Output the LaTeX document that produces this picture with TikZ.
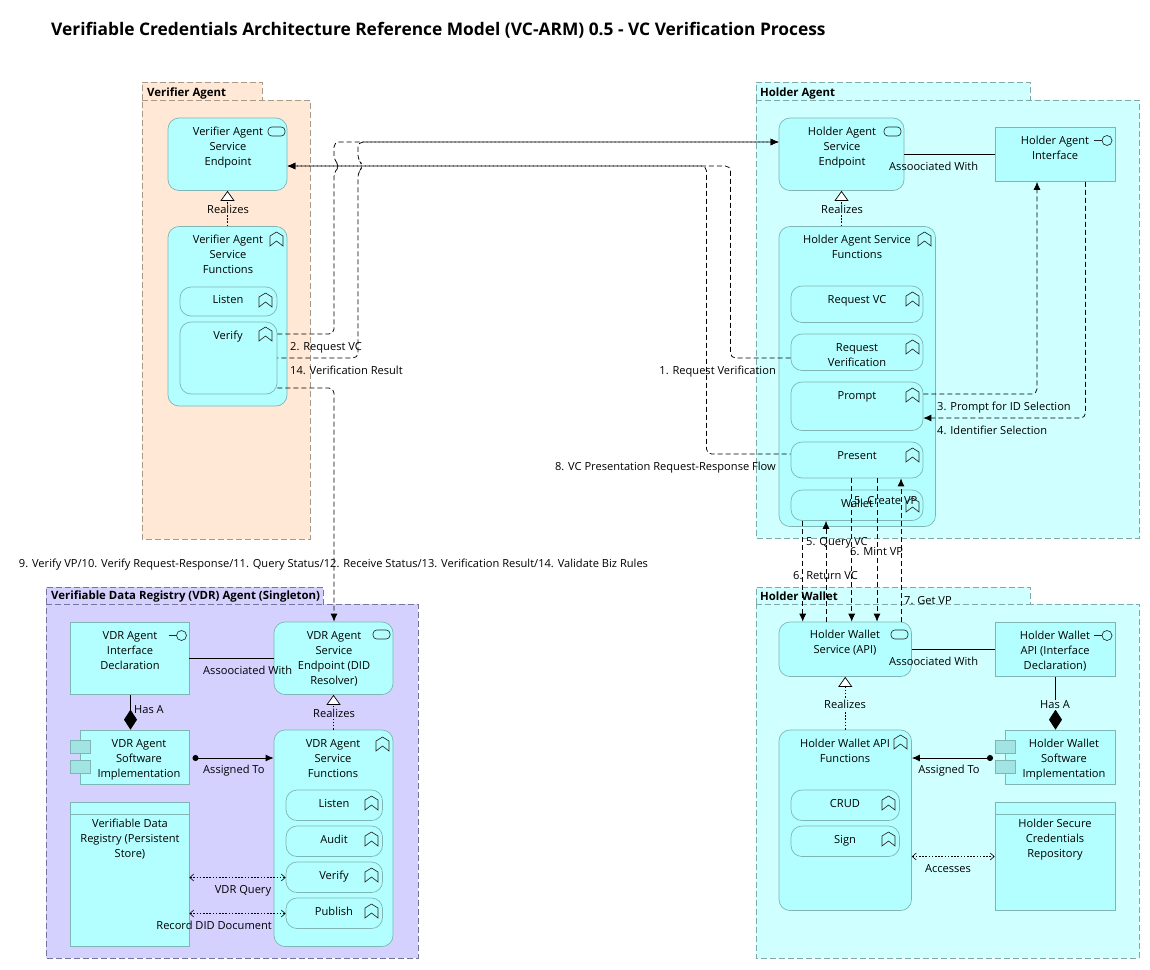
\documentclass[tikz,border=0pt]{standalone}
\usepackage{fontspec}
\setmainfont{Open Sans}
\usetikzlibrary{arrows.meta}
\definecolor{elemfill}{HTML}{B3FFFF}
\definecolor{elemline}{HTML}{7FB5B5}
\definecolor{tabfill}{HTML}{A2E3E3}
\definecolor{peach}{HTML}{FFE9D6}
\definecolor{peachline}{HTML}{A89A8A}
\definecolor{aqua}{HTML}{CFFFFF}
\definecolor{aqualine}{HTML}{7FA8A8}
\definecolor{lilac}{HTML}{D5D1FF}
\definecolor{lilacline}{HTML}{74749C}
\tikzset{
  x=1pt,y=-1pt,
  txt/.style={inner sep=0pt,yshift=-1pt,align=center,font=\fontsize{11.1}{15}\selectfont,text=black},
  lab/.style={inner sep=0pt,yshift=-1pt,font=\fontsize{11.1}{15}\selectfont,text=black},
  grouptitle/.style={inner sep=0pt,yshift=-1pt,anchor=west,font=\fontsize{11.4}{15}\selectfont\bfseries},
  boxbase/.style={draw=elemline,fill=elemfill,line width=0.7pt,inner sep=0pt},
  sharpbox/.style={boxbase},
  roundbox/.style={boxbase,rounded corners=11pt},
  tabbox/.style={draw=elemline,fill=tabfill,line width=0.7pt,inner sep=0pt},
  conn/.style={line width=0.75pt,dash pattern=on 5pt off 3pt,rounded corners=5pt},
  solidconn/.style={line width=0.85pt},
  dotconn/.style={line width=0.7pt,dash pattern=on 1.6pt off 1.6pt},
  filltip/.tip={Latex[length=8pt,width=7pt]},
  opentip/.tip={Straight Barb[length=4pt,width=7pt,line width=0.6pt]},
  realtip/.tip={Triangle[open,fill=white,length=10pt,width=14pt,line width=0.7pt]},
  diamondtip/.tip={Diamond[length=20pt,width=13pt]},
  dottip/.tip={Circle[length=6pt,width=6pt]},
  iconline/.style={draw=black!85,line width=0.65pt},
}
% #1 name #2 style #3 x1 #4 y1 #5 x2 #6 y2 #7 text x #8 text y #9 text
\newcommand\elem[9]{%
  \node[#2,minimum width={(#5-#3)*1pt},minimum height={(#6-#4)*1pt}] (#1) at ({(#3+#5)/2},{(#4+#6)/2}) {};
  \node[txt] (#1-t) at (#7,#8) {\strut #9\strut};
}
\newcommand\groupbox[9]{% name fill line x1 x2(body) tabx2 ytab ybody ybottom
  \path[fill=#2,draw=#3,line width=0.7pt,dash pattern=on 6pt off 3pt]
    (#4,#8) -- (#4,#7) -- (#6,#7) -- (#6,#8) -- (#5,#8) -- (#5,#9) -- (#4,#9) -- cycle;
  \draw[#3,line width=0.7pt,dash pattern=on 6pt off 3pt] (#4,#8) -- (#6,#8);
}
\newcommand\fnicon[2]{\draw[iconline] (#1,#2+4) -- (#1+6.5,#2) -- (#1+13,#2+4) -- (#1+13,#2+14) -- (#1+6.5,#2+9) -- (#1,#2+14) -- cycle;}
\newcommand\pillicon[2]{\draw[iconline,rounded corners=3.8pt] (#1,#2) rectangle (#1+17,#2+9);}
\newcommand\ificon[2]{\draw[iconline] (#1,#2) circle[radius=5pt]; \draw[iconline] (#1-13,#2) -- (#1-5,#2);}
\newcommand\hdrline[3]{\draw[elemline,line width=0.7pt] (#1,#3) -- (#2,#3);}
\newcommand\lbl[4]{\node[lab,anchor=#2] (#1) at (#3) {\strut #4};}
\begin{document}
\begin{tikzpicture}
\useasboundingbox[fill=white] (0,0) rectangle (1150,969);
\node[inner sep=0pt,anchor=west,font=\fontsize{17.35}{20}\selectfont\bfseries] (title) at (51,31) {\strut Verifiable Credentials Architecture Reference Model (VC-ARM) 0.5 - VC Verification Process};

% groups
\groupbox{vg}{peach}{peachline}{142}{310}{262}{82}{100}{539}
\groupbox{hg}{aqua}{aqualine}{756}{1139}{1030}{82}{100}{538}
\groupbox{wg}{aqua}{aqualine}{756}{1139}{1030}{587}{604}{958}
\groupbox{rg}{lilac}{lilacline}{46}{418}{323}{587}{604}{958}
\node[grouptitle] (vgt) at (147,92) {\strut Verifier Agent};
\node[grouptitle] (hgt) at (760,92) {\strut Holder Agent};
\node[grouptitle] (wgt) at (760,596) {\strut Holder Wallet};
\node[grouptitle] (rgt) at (51,595.5) {\strut Verifiable Data Registry (VDR) Agent (Singleton)};

% Verifier
\elem{vep}{roundbox}{168}{118}{287}{190.5}{228}{146}{Verifier Agent\\Service\\Endpoint}
\pillicon{268}{127}
\elem{vfn}{roundbox}{168}{226.5}{287}{406}{228}{254}{Verifier Agent\\Service\\Functions}
\fnicon{270}{232}
\elem{vlisten}{roundbox}{180}{287}{277}{316}{228}{299}{Listen}
\fnicon{259}{293}
\elem{vverify}{roundbox}{180}{322}{277}{394}{228}{335}{Verify}
\fnicon{259}{327}

% Holder
\elem{hep}{roundbox}{779}{118}{904}{190.5}{842}{146}{Holder Agent\\Service\\Endpoint}
\pillicon{884}{127}
\elem{hif}{sharpbox}{995}{127}{1115}{181.5}{1055}{147.5}{Holder Agent\\Interface}
\ificon{1107}{140.5}
\elem{hfn}{roundbox}{779}{226.5}{935.5}{526.5}{857}{246.5}{Holder Agent Service\\Functions}
\fnicon{918}{232}
\elem{hreqvc}{roundbox}{791}{286}{923}{322.5}{857}{299}{Request VC}
\fnicon{906}{292}
\elem{hreqver}{roundbox}{791}{334}{923}{370.5}{857}{354.5}{Request\\Verification}
\fnicon{906}{340}
\elem{hprompt}{roundbox}{791}{382}{923}{430.5}{857}{395}{Prompt}
\fnicon{906}{388}
\elem{hpresent}{roundbox}{791}{442}{923}{478}{857}{455}{Present}
\fnicon{906}{448}
\elem{hwallet}{roundbox}{791}{490}{923}{520.5}{857}{503}{Wallet}
\fnicon{906}{498}

% Holder wallet
\elem{wsv}{roundbox}{779}{622}{911.5}{676.5}{845}{641.5}{Holder Wallet\\Service (API)}
\pillicon{891}{630}
\elem{wapi}{sharpbox}{995}{622}{1115}{676.5}{1055}{650}{Holder Wallet\\API (Interface\\Declaration)}
\ificon{1107}{635.5}
\elem{wfn}{roundbox}{779}{730}{911.5}{910.5}{845}{750.5}{Holder Wallet API\\Functions}
\fnicon{894}{735}
\elem{wcrud}{roundbox}{791}{790}{899.5}{820.5}{845}{803}{CRUD}
\fnicon{882}{796}
\elem{wsign}{roundbox}{791}{826}{899.5}{856.5}{845}{839}{Sign}
\fnicon{882}{832}
\elem{wsw}{sharpbox}{1005}{730}{1115}{784.5}{1064}{758}{Holder Wallet\\Software\\Implementation}
\node[tabbox,minimum width=20.5pt,minimum height=13.5pt] (wtaba) at (1005.2,747) {};
\node[tabbox,minimum width=20.5pt,minimum height=13.5pt] (wtabb) at (1005.2,767) {};
\elem{wrepo}{sharpbox}{995}{802.5}{1115}{910.5}{1055}{838}{Holder Secure\\Credentials\\Repository}
\hdrline{995}{1115}{814.5}

% VDR
\elem{rif}{sharpbox}{70}{622}{189}{694.5}{130}{650}{VDR Agent\\Interface\\Declaration}
\ificon{181.5}{635.5}
\elem{rep}{roundbox}{274}{622}{393}{694.5}{334}{657.5}{VDR Agent\\Service\\Endpoint (DID\\Resolver)}
\pillicon{373}{630}
\elem{rsw}{sharpbox}{80}{730}{189}{784.5}{139}{758}{VDR Agent\\Software\\Implementation}
\node[tabbox,minimum width=20.5pt,minimum height=13.5pt] (rtaba) at (80.2,747) {};
\node[tabbox,minimum width=20.5pt,minimum height=13.5pt] (rtabb) at (80.2,767) {};
\elem{rfn}{roundbox}{274}{730}{393}{946.5}{333}{758}{VDR Agent\\Service\\Functions}
\fnicon{376}{737}
\elem{rlisten}{roundbox}{286}{790}{382.5}{820.5}{334}{803}{Listen}
\fnicon{365}{796}
\elem{raudit}{roundbox}{286}{826}{382.5}{856.5}{334}{839}{Audit}
\fnicon{365}{832}
\elem{rverify}{roundbox}{286}{862}{382.5}{892.5}{334}{875}{Verify}
\fnicon{365}{868}
\elem{rpublish}{roundbox}{286}{898}{382.5}{928.5}{334}{911}{Publish}
\fnicon{365}{904}
\elem{rstore}{sharpbox}{70}{802.5}{189}{946.5}{130}{838}{Verifiable Data\\Registry (Persistent\\Store)}
\hdrline{70}{189}{814.5}

% long dashed connectors
\draw[conn,-filltip] (vverify.east |- 0,334) -- (334,334) -- (334,172) -- (340,166) -- (334,160) -- (334,142) -- (hep.west |- 0,142);
\draw[conn,dash phase=4pt,-filltip] (vverify.east |- 0,358) -- (358,358) -- (358,172) -- (364,166) -- (358,160) -- (358,142) -- (hep.west |- 0,142);
\draw[conn,-filltip] (vverify.east |- 0,388) -- (334,388) -- (rep.north -| 334,0);
\draw[conn,-filltip] (hreqver.west |- 0,358) -- (730.5,358) -- (730.5,166) -- (vep.east |- 0,166);
\draw[conn,dash phase=4pt,-filltip] (hpresent.west |- 0,454) -- (706.5,454) -- (706.5,166) -- (vep.east |- 0,166);
\draw[conn,-filltip] (hprompt.east |- 0,394) -- (1037,394) -- (hif.south -| 1037,0);
\draw[conn,-filltip] (hif.south -| 1085.5,0) -- (1085.5,418) -- (hprompt.east |- 0,418);
\draw[conn,-filltip] (hwallet.south -| 802.7,0) -- (wsv.north -| 802.7,0);
\draw[conn,-filltip] (wsv.north -| 826,0) -- (hwallet.south -| 826,0);
\draw[conn,-filltip] (hpresent.south -| 851.7,0) -- (wsv.north -| 851.7,0);
\draw[conn,-filltip] (hpresent.south -| 877,0) -- (wsv.north -| 877,0);
\draw[conn,-filltip] (wsv.north -| 901,0) -- (hpresent.south -| 901,0);

% realizes
\draw[dotconn,-realtip] (vfn.north) -- (vep.south);
\draw[dotconn,-realtip] (hep.south |- hfn.north) -- (hep.south);
\draw[dotconn,-realtip] (wfn.north) -- (wsv.south);
\draw[dotconn,-realtip] (rep.south |- rfn.north) -- (rep.south);

% solid connectors
\draw[solidconn] (hep.east |- 0,154) -- (hif.west |- 0,154);
\draw[solidconn] (wsv.east |- 0,649) -- (wapi.west |- 0,649);
\draw[solidconn] (rif.east |- 0,658) -- (rep.west |- 0,658);
\draw[solidconn,-diamondtip] (wapi.south -| 1055.5,0) -- (wsw.north -| 1055.5,0);
\draw[solidconn,-diamondtip] (rif.south -| 130.5,0) -- (rsw.north -| 130.5,0);
\coordinate (wdot) at (993,758);
\coordinate (rdot) at (192.5,758);
\draw[solidconn,dottip-filltip] (wdot) -- (wfn.east |- wdot);
\draw[solidconn,dottip-filltip] (rdot) -- (rfn.west |- rdot);
\draw[dotconn,opentip-opentip] (wfn.east |- 0,856.5) -- (wrepo.west |- 0,856.5);
\draw[dotconn,opentip-opentip] (rstore.east |- 0,877.5) -- (rverify.west |- 0,877.5);
\draw[dotconn,opentip-opentip] (rstore.east |- 0,913.5) -- (rpublish.west |- 0,913.5);

% connector labels
\lbl{l1}{east}{776,370}{1. Request Verification}
\lbl{l2}{west}{290,346}{2. Request VC}
\lbl{l3}{west}{937,406}{3. Prompt for ID Selection}
\lbl{l4}{west}{937,430}{4. Identifier Selection}
\lbl{l5a}{west}{854,500}{5. Create VP}
\lbl{l5b}{west}{806,541}{5. Query VC}
\lbl{l6a}{west}{850,551}{6. Mint VP}
\lbl{l6b}{west}{793,575}{6. Return VC}
\lbl{l7}{west}{904,600}{7. Get VP}
\lbl{l8}{east}{776,466}{8. VC Presentation Request-Response Flow}
\lbl{l14}{west}{290,370}{14. Verification Result}
\lbl{l9}{center}{333.5,563}{9. Verify VP/10. Verify Request-Response/11. Query Status/12. Receive Status/13. Verification Result/14. Validate Biz Rules}
\node[lab,fill=peach,inner ysep=1pt] (rv) at (228,208.5) {Realizes};
\node[lab,fill=aqua,inner ysep=1pt] (rh) at (842,208.5) {Realizes};
\node[lab,fill=aqua,inner ysep=1pt] (rw) at (845,703.5) {Realizes};
\node[lab,fill=lilac,inner ysep=1pt] (rr) at (334,712.5) {Realizes};
\lbl{as1}{west}{889,166}{Assoociated With}
\lbl{as2}{west}{889,661}{Assoociated With}
\lbl{as3}{west}{203,670}{Assoociated With}
\node[lab,fill=aqua,inner ysep=1pt] (ha1) at (1055,704) {Has A};
\lbl{ha2}{west}{134,709}{Has A}
\lbl{at1}{center}{949,769}{Assigned To}
\lbl{at2}{west}{203,769}{Assigned To}
\lbl{ac}{center}{948,868}{Accesses}
\lbl{vq}{center}{243,889}{VDR Query}
\lbl{rd}{east}{272,925}{Record DID Document}
\end{tikzpicture}
\end{document}
